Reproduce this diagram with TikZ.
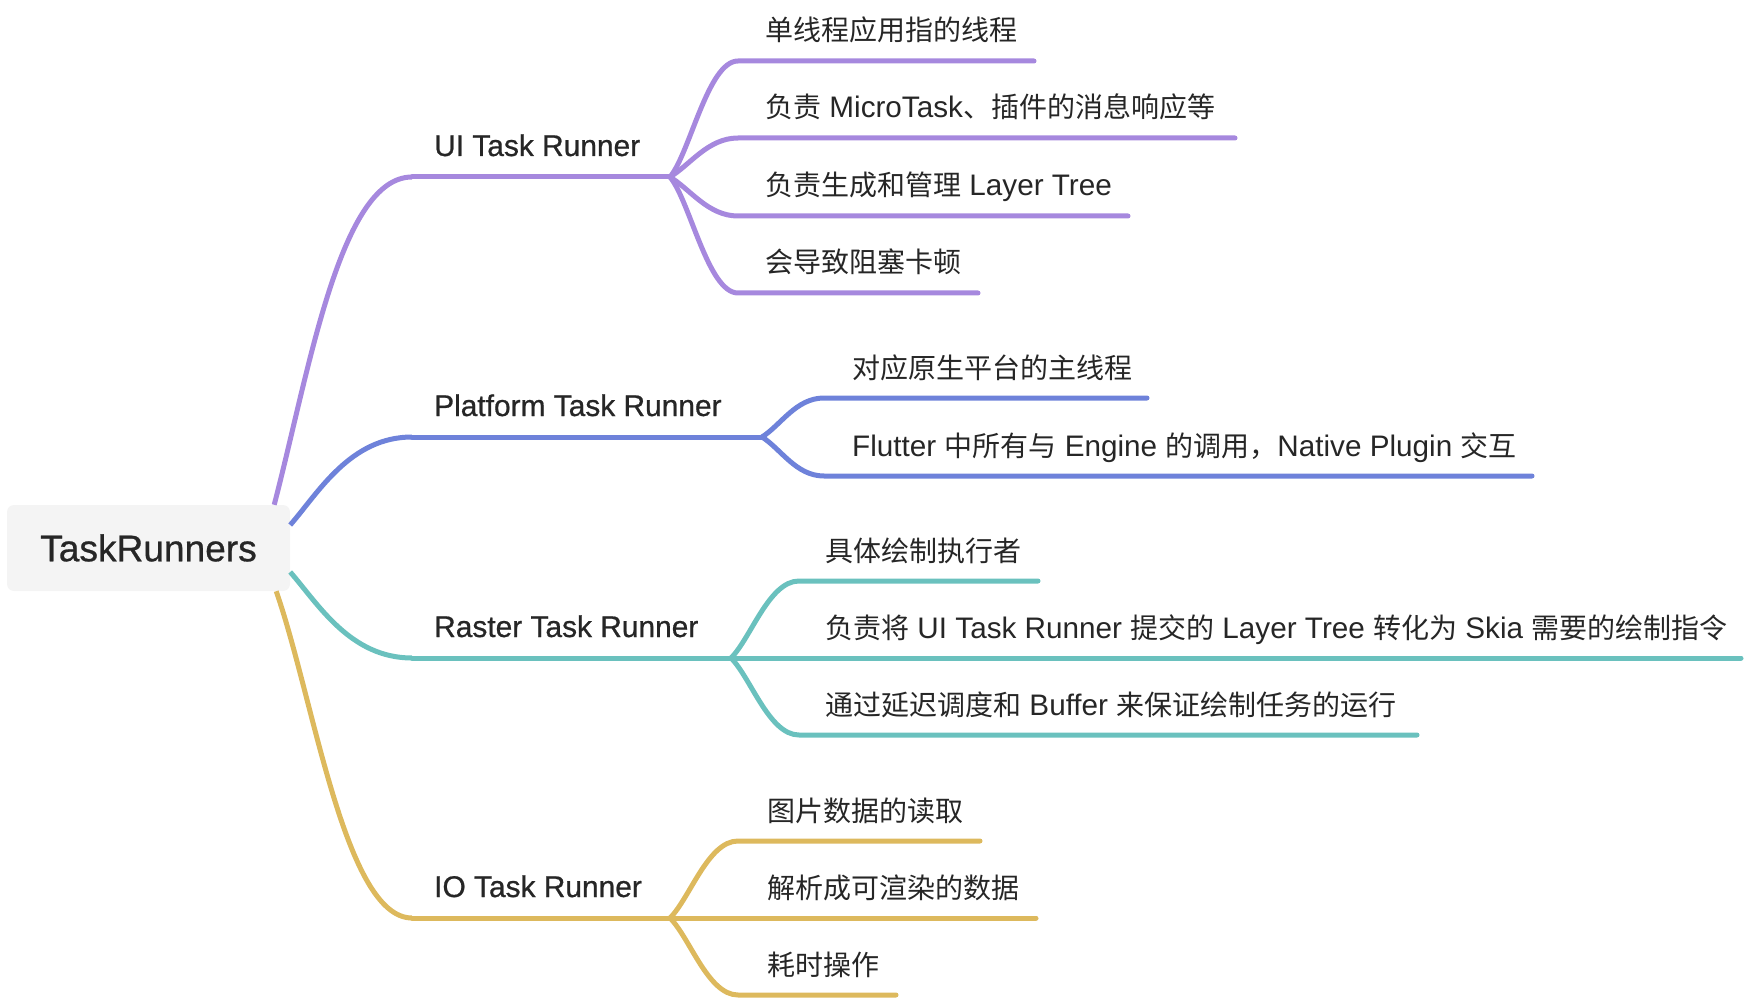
\documentclass[tikz,border=0pt]{standalone}
\usepackage{fontspec}
\setmainfont{Liberation Sans}[Scale=1.06]
\newfontfamily\medfont{Liberation Sans}[Scale=1.06, FakeBold=0.7]
\newfontfamily\cjk{Noto Sans CJK SC}
\newcommand\zh[1]{{\cjk #1}}
\usetikzlibrary{calc}
\definecolor{cpur}{RGB}{166,136,222}
\definecolor{cblu}{RGB}{110,130,218}
\definecolor{cteal}{RGB}{106,193,190}
\definecolor{cgold}{RGB}{221,185,93}
\definecolor{ink}{RGB}{38,38,38}
\definecolor{rootfill}{RGB}{244,244,244}
\begin{document}
\begin{tikzpicture}[x=1pt,y=-1pt,
  conn/.style={line width=5pt, line cap=round, line join=round},
  topic/.style={anchor=base west, inner sep=0pt, text=ink, font=\fontsize{28}{34}\selectfont},
  maintopic/.style={topic, font=\medfont\fontsize{28.2}{34}\selectfont},
  rootbox/.style={fill=rootfill, rounded corners=7pt, minimum width=283pt, minimum height=86pt,
                  inner sep=0pt, text=ink, font=\medfont\fontsize{35}{42}\selectfont}]
\useasboundingbox (0,0) rectangle (1748,1000);

% root
\node[rootbox] (root) at (148.5,548) {TaskRunners};

% main topics
\node[maintopic] (ui) at (434,156) {UI Task Runner};
\node[maintopic] (pl) at (434,416) {Platform Task Runner};
\node[maintopic] (ra) at (434,637) {Raster Task Runner};
\node[maintopic] (io) at (434,897) {IO Task Runner};

% main line coordinates
\coordinate (uiL) at (412,177); \coordinate (uiF) at (670,177);
\coordinate (plL) at (412,437); \coordinate (plF) at (762,437);
\coordinate (raL) at (412,658); \coordinate (raF) at (731,658);
\coordinate (ioL) at (412,918); \coordinate (ioF) at (670,918);

% UI children
\coordinate (ui1L) at (738,61);  \coordinate (ui1R) at (1034,61);
\coordinate (ui2L) at (738,138); \coordinate (ui2R) at (1235,138);
\coordinate (ui3L) at (738,216); \coordinate (ui3R) at (1128,216);
\coordinate (ui4L) at (738,293); \coordinate (ui4R) at (978,293);
\node[topic] (ui1) at (765,41)  {\zh{单线程应用指的线程}};
\node[topic] (ui2) at (765,118) {\zh{负责} MicroTask\zh{、插件的消息响应等}};
\node[topic] (ui3) at (765,196) {\zh{负责生成和管理} Layer Tree};
\node[topic] (ui4) at (765,273) {\zh{会导致阻塞卡顿}};

% Platform children
\coordinate (pl1L) at (824,398); \coordinate (pl1R) at (1147,398);
\coordinate (pl2L) at (824,476); \coordinate (pl2R) at (1532,476);
\node[topic] (pl1) at (852,378) {\zh{对应原生平台的主线程}};
\node[topic] (pl2) at (852,456) {Flutter \zh{中所有与} Engine \zh{的调用，}Native Plugin \zh{交互}};

% Raster children
\coordinate (ra1L) at (799,581); \coordinate (ra1R) at (1038,581);
\coordinate (ra2R) at (1741,658);
\coordinate (ra3L) at (799,735); \coordinate (ra3R) at (1417,735);
\node[topic] (ra1) at (825,561) {\zh{具体绘制执行者}};
\node[topic] (ra2) at (825,638) {\zh{负责将} UI Task Runner \zh{提交的} Layer Tree \zh{转化为} Skia \zh{需要的绘制指令}};
\node[topic] (ra3) at (825,715) {\zh{通过延迟调度和} Buffer \zh{来保证绘制任务的运行}};

% IO children
\coordinate (io1L) at (738,841); \coordinate (io1R) at (980,841);
\coordinate (io2R) at (1036,918);
\coordinate (io3L) at (738,995); \coordinate (io3R) at (896,995);
\node[topic] (io1) at (767,821) {\zh{图片数据的读取}};
\node[topic] (io2) at (767,898) {\zh{解析成可渲染的数据}};
\node[topic] (io3) at (767,975) {\zh{耗时操作}};

% root connectors
\draw[conn,cpur,line cap=butt] ($(root.north east)+(-16,0)$) .. controls +(35,-134) and +(-72,0) .. (uiL);
\draw[conn,cpur] (uiL) -- (uiF);
\draw[conn,cblu,line cap=butt] ($(root.east)+(0,-23)$) .. controls +(28,-32) and +(-62,0) .. (plL);
\draw[conn,cblu] (plL) -- (plF);
\draw[conn,cteal,line cap=butt] ($(root.east)+(0,24)$) .. controls +(28,32) and +(-62,0) .. (raL);
\draw[conn,cteal] (raL) -- (raF);
\draw[conn,cgold,line cap=butt] ($(root.south east)+(-14,0)$) .. controls +(38,109) and +(-67,0) .. (ioL);
\draw[conn,cgold] (ioL) -- (ioF);

% UI forks
\draw[conn,cpur] (uiF) .. controls +(20,-24) and +(-30,0) .. (ui1L) -- (ui1R);
\draw[conn,cpur] (uiF) .. controls +(20,-12) and +(-30,0) .. (ui2L) -- (ui2R);
\draw[conn,cpur] (uiF) .. controls +(20,12) and +(-30,0) .. (ui3L) -- (ui3R);
\draw[conn,cpur] (uiF) .. controls +(20,24) and +(-30,0) .. (ui4L) -- (ui4R);
% Platform forks
\draw[conn,cblu] (plF) .. controls +(19,-12) and +(-28,0) .. (pl1L) -- (pl1R);
\draw[conn,cblu] (plF) .. controls +(19,12) and +(-28,0) .. (pl2L) -- (pl2R);
% Raster forks
\draw[conn,cteal] (raF) .. controls +(20,-20) and +(-30,0) .. (ra1L) -- (ra1R);
\draw[conn,cteal] (raF) -- (ra2R);
\draw[conn,cteal] (raF) .. controls +(20,20) and +(-30,0) .. (ra3L) -- (ra3R);
% IO forks
\draw[conn,cgold] (ioF) .. controls +(20,-20) and +(-30,0) .. (io1L) -- (io1R);
\draw[conn,cgold] (ioF) -- (io2R);
\draw[conn,cgold] (ioF) .. controls +(20,20) and +(-30,0) .. (io3L) -- (io3R);
\end{tikzpicture}
\end{document}
